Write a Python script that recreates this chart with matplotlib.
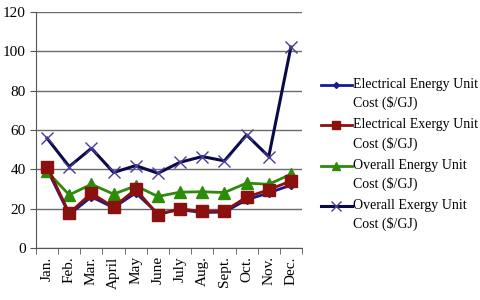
import matplotlib
matplotlib.use("Agg")
import matplotlib.pyplot as plt
from matplotlib.legend_handler import HandlerLine2D
import numpy as np

months = ["Jan.", "Feb.", "Mar.", "April", "May", "June", "July", "Aug.",
          "Sept.", "Oct.", "Nov.", "Dec."]

elec_energy = [40.0, 17.0, 26.0, 20.5, 28.0, 17.5, 19.5, 18.0, 18.3, 24.5, 28.0, 32.0]
elec_exergy = [41.4, 17.7, 27.9, 20.8, 29.9, 16.9, 19.9, 18.6, 18.8, 25.9, 29.6, 34.1]
overall_energy = [38.9, 27.0, 32.4, 27.4, 31.6, 26.2, 28.4, 28.6, 28.2, 33.0, 32.4, 37.5]
overall_exergy = [55.8, 41.4, 50.7, 38.4, 41.9, 38.0, 43.6, 46.5, 44.3, 57.5, 46.5, 102.2]

labels = ["Electrical Energy Unit\nCost (\\$/GJ)",
          "Electrical Exergy Unit\nCost (\\$/GJ)",
          "Overall Energy Unit\nCost (\\$/GJ)",
          "Overall Exergy Unit\nCost (\\$/GJ)"]


class FirstLineHandler(HandlerLine2D):
    # put the legend line next to the first text line, like Excel does
    def create_artists(self, legend, orig_handle, xdescent, ydescent,
                       width, height, fontsize, trans):
        artists = super().create_artists(legend, orig_handle, xdescent, ydescent,
                                         width, height, fontsize, trans)
        for a in artists:
            a.set_ydata(np.asarray(a.get_ydata(), float) + 0.68 * fontsize)
        return artists


plt.rcParams["font.family"] = ["Liberation Serif", "DejaVu Serif"]

fig = plt.figure(figsize=(4.81, 3.0), dpi=100)
ax = fig.add_axes([36 / 481, 52 / 300, 266 / 481, 236 / 300])

x = np.arange(len(months))
ax.plot(x, elec_energy, color="#1a1a8c", lw=2, marker="D", ms=4,
        label=labels[0], zorder=3)
ax.plot(x, elec_exergy, color="#8b1010", lw=2, marker="s", ms=8,
        label=labels[1], zorder=4)
ax.plot(x, overall_energy, color="#2e8b0a", lw=2, marker="^", ms=8,
        label=labels[2], zorder=3)
ax.plot(x, overall_exergy, color="#0a0a4a", lw=2.2, marker="x", ms=9,
        mew=1, mec="#4a3a9a", label=labels[3], zorder=3)

ax.set_xlim(-0.5, len(months) - 0.5)
ax.set_ylim(0, 120)
ax.set_yticks(range(0, 121, 20))
ax.yaxis.grid(True, color="#6a6a6a", lw=1)
ax.set_axisbelow(True)

ax.set_xticks(x)
ax.set_xticklabels(months, rotation=90)
ax.set_xticks(np.arange(-0.5, len(months)), minor=True)
ax.tick_params(axis="x", which="major", length=0, pad=6)
ax.tick_params(axis="x", which="minor", length=4, color="#555555")
ax.tick_params(axis="y", length=4, color="#555555")
ax.tick_params(labelsize=11)

for s in ["top", "right"]:
    ax.spines[s].set_visible(False)
for s in ["left", "bottom"]:
    ax.spines[s].set_color("#555555")

leg = ax.legend(loc="upper left", bbox_to_anchor=(321 / 481, 222 / 300),
                bbox_transform=fig.transFigure, frameon=False, fontsize=10,
                handlelength=2.2, handletextpad=0.1, labelspacing=0.6,
                borderaxespad=0, borderpad=0, markerscale=0.75,
                handler_map={plt.Line2D: FirstLineHandler()})
for t in leg.get_texts():
    t.set_linespacing(1.45)

fig.savefig("out.png", dpi=100)
